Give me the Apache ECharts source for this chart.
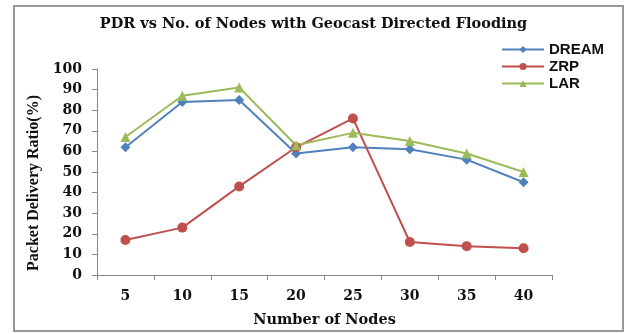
<!DOCTYPE html>
<html><head><meta charset="utf-8">
<script src="https://cdn.jsdelivr.net/npm/echarts@6/dist/echarts.min.js"></script>
<style>html,body{margin:0;padding:0;background:#fff}#c{width:627px;height:334px}</style>
</head><body><div id="c"></div>
<script>
var categories = ['5','10','15','20','25','30','35','40'];
var dream = [62, 84, 85, 59, 62, 61, 56, 45];
var zrp = [17, 23, 43, 62, 76, 16, 14, 13];
var lar = [67, 87, 91, 63, 69, 65, 59, 50];
var seriesNames = ['DREAM', 'ZRP', 'LAR'];

var chart = echarts.init(document.getElementById('c'));
var serif = '"Liberation Serif", "Times New Roman", serif';
var wide = '"DejaVu Serif", serif';
function mk(name, data, color, symbol, size) {
  return {name: name, type: 'line', data: data, symbol: symbol, symbolSize: size,
    lineStyle: {color: color, width: 2}, itemStyle: {color: color}};
}
chart.setOption({
  animation: false,
  title: {text: 'PDR vs No. of Nodes with Geocast Directed Flooding', left: 'center', top: 12,
    textStyle: {fontFamily: wide, fontWeight: 'bold', fontSize: 14.5, color: '#111'}},
  legend: {orient: 'vertical', left: 496, top: 37, itemGap: 2, itemWidth: 42, itemHeight: 9,
    textStyle: {fontFamily: '"Liberation Sans", Arial, sans-serif', fontWeight: 'bold', fontSize: 15, color: '#111'},
    data: seriesNames},
  grid: {left: 97, right: 75, top: 69, bottom: 59},
  xAxis: {type: 'category', data: categories, boundaryGap: true,
    name: 'Number of Nodes', nameLocation: 'middle', nameGap: 38,
    nameTextStyle: {fontFamily: wide, fontWeight: 'bold', fontSize: 14.5, color: '#111'},
    axisLine: {lineStyle: {color: '#888'}},
    axisTick: {show: true, length: 5, lineStyle: {color: '#888'}},
    axisLabel: {fontFamily: wide, fontWeight: 'bold', fontSize: 14, color: '#111', margin: 14}},
  yAxis: {type: 'value', min: 0, max: 100, interval: 10,
    name: 'Packet Delivery Ratio(%)', nameLocation: 'middle', nameGap: 52,
    nameTextStyle: {fontFamily: serif, fontWeight: 'bold', fontSize: 16, color: '#111', padding: [0, 22, 0, 0]},
    splitLine: {show: false},
    axisLine: {show: true, lineStyle: {color: '#888'}},
    axisTick: {show: true, length: 5, lineStyle: {color: '#888'}},
    axisLabel: {fontFamily: wide, fontWeight: 'bold', fontSize: 14, color: '#111', margin: 15}},
  graphic: [{type: 'rect', shape: {x: 14, y: 6, width: 609, height: 325}, silent: true,
    style: {fill: 'none', stroke: '#999', lineWidth: 2}}],
  series: [
    mk('DREAM', dream, '#4F81BD', 'diamond', 10),
    mk('ZRP', zrp, '#C0504D', 'circle', 10),
    mk('LAR', lar, '#9BBB59', 'triangle', 10)
  ]
});
</script></body></html>
